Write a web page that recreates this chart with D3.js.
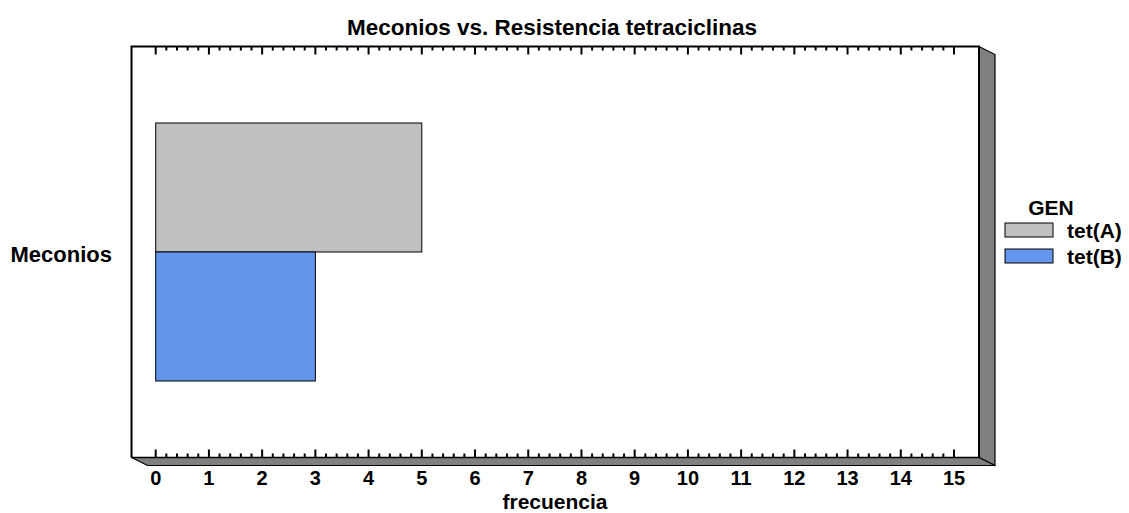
<!DOCTYPE html>
<html><head><meta charset="utf-8">
<script src="https://cdn.jsdelivr.net/npm/d3@7"></script>
<style>body{margin:0;background:#fff}svg{display:block}text{font-family:"Liberation Sans",Arial,sans-serif;font-weight:bold}</style>
</head><body><svg id="c" width="1129" height="513"></svg>
<script>
const categories = ["Meconios"];
const seriesNames = ["tet(A)", "tet(B)"];
const seriesValues = [[5], [3]];
const seriesColors = ["#C0C0C0", "#6495ED"];
const xTicks = d3.range(0, 16);
const title = "Meconios vs. Resistencia tetraciclinas";
const xLabel = "frecuencia";
const legendTitle = "GEN";

const svg = d3.select("#c");
const L = 131.5, R = 979, T = 46.5, B = 457.5, DX = 16, DY = 8;
const x = d3.scaleLinear().domain([0, 15]).range([155.7, 954]);
const y = d3.scaleBand().domain(categories).range([T, B]).paddingInner(0).paddingOuter(0.2965);
const ys = d3.scaleBand().domain(seriesNames).range([0, y.bandwidth()]);

// right wall & floor
svg.append("polygon").attr("points", `${R},${T} ${R+DX},${T+DY} ${R+DX},${B+DY} ${R},${B}`)
  .attr("fill", "#808080").attr("stroke", "#000").attr("stroke-width", 1.2);
svg.append("polygon").attr("points", `${L},${B} ${R},${B} ${R+DX},${B+DY} ${L+DX},${B+DY}`)
  .attr("fill", "#808080").attr("stroke", "#000").attr("stroke-width", 1.2);
// back frame
svg.append("path").attr("d", `M${L},${B}V${T}H${R}V${B}`).attr("fill", "none").attr("stroke", "#000").attr("stroke-width", 2);
svg.append("line").attr("x1", L).attr("x2", R).attr("y1", B).attr("y2", B).attr("stroke", "#000").attr("stroke-width", 1.5);

// ticks
const minor = d3.range(0, 15.01, 0.2);
const g = svg.append("g").attr("stroke", "#000").attr("stroke-width", 2);
minor.forEach(v => {
  const isMajor = Math.abs(v - Math.round(v)) < 1e-6;
  const len = isMajor ? 8 : 4;
  const xx = x(v);
  g.append("line").attr("x1", xx).attr("x2", xx).attr("y1", T).attr("y2", T + len);
  g.append("line").attr("x1", xx).attr("x2", xx).attr("y1", B).attr("y2", B - len);
});
// tick labels
svg.append("g").selectAll("text").data(xTicks).join("text")
  .attr("x", d => x(d)).attr("y", 485).attr("text-anchor", "middle")
  .attr("font-size", 20).text(d => d);

// bars
seriesNames.forEach((s, i) => {
  svg.append("g").selectAll("rect").data(categories).join("rect")
    .attr("x", x(0)).attr("y", c => y(c) + ys(s))
    .attr("width", (c, j) => x(seriesValues[i][j]) - x(0)).attr("height", ys.bandwidth())
    .attr("fill", seriesColors[i]).attr("stroke", "#000").attr("stroke-width", 1);
});

// category labels
svg.append("g").selectAll("text").data(categories).join("text")
  .attr("x", 112).attr("y", 262).attr("text-anchor", "end")
  .attr("font-size", 22).text(c => c);

// title & axis label
svg.append("text").attr("x", 552).attr("y", 35).attr("text-anchor", "middle").attr("font-size", 22.5).text(title);
svg.append("text").attr("x", 555).attr("y", 508.5).attr("text-anchor", "middle").attr("font-size", 21).text(xLabel);

// legend
svg.append("text").attr("x", 1051).attr("y", 215).attr("text-anchor", "middle").attr("font-size", 21).text(legendTitle);
seriesNames.forEach((s, i) => {
  const yy = 223 + i * 26;
  svg.append("rect").attr("x", 1005).attr("y", yy).attr("width", 48).attr("height", 14)
    .attr("fill", seriesColors[i]).attr("stroke", "#000").attr("stroke-width", 1);
  svg.append("text").attr("x", 1067).attr("y", yy + 15).attr("font-size", 21).text(s);
});
</script></body></html>
